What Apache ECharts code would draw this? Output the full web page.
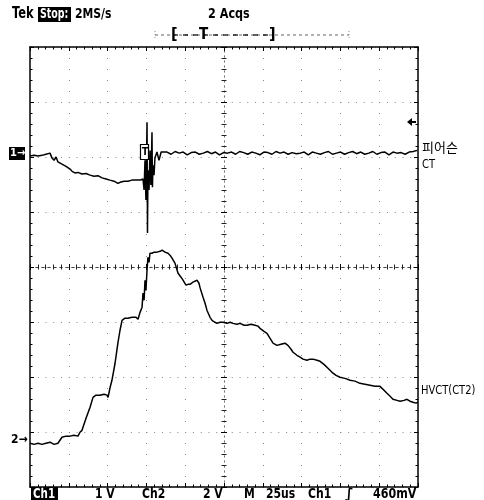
<!DOCTYPE html>
<html><head><meta charset="utf-8">
<script src="https://cdn.jsdelivr.net/npm/echarts@6/dist/echarts.min.js"></script>
<style>html,body{margin:0;padding:0;background:#fff}#c{width:484px;height:500px}</style>
</head><body><div id="c"></div>
<script>
// time in microseconds relative to trigger (25 us/div), values in volts
const ch1Points = [[-125.0,-0.05],[-122.4,-0.04],[-119.8,-0.05],[-117.3,-0.04],[-114.7,-0.02],[-112.1,0.0],[-110.8,-0.09],[-109.5,-0.13],[-108.2,-0.07],[-107.0,-0.16],[-104.4,-0.20],[-101.8,-0.24],[-99.2,-0.29],[-97.9,-0.33],[-96.0,-0.36],[-94.1,-0.35],[-91.5,-0.38],[-88.9,-0.37],[-86.3,-0.40],[-83.8,-0.42],[-81.2,-0.41],[-78.6,-0.45],[-76.0,-0.47],[-73.5,-0.49],[-70.9,-0.51],[-68.3,-0.55],[-67.0,-0.53],[-64.4,-0.51],[-61.9,-0.51],[-59.3,-0.49],[-56.7,-0.49],[-54.1,-0.49],[-52.2,-0.47],
[-51.5,-0.67],[-50.9,-0.13],[-50.3,-0.85],[-49.6,0.56],[-49.3,-1.45],[-49.0,-0.31],[-48.3,-0.67],[-47.7,0.05],[-47.1,-0.58],[-46.4,0.38],[-46.1,-0.62],[-45.8,-0.22],[-45.1,-0.40],[-44.5,-0.09],[-43.2,0.02],[-41.9,-0.13],[-40.5,0.02],[-39.3,0.0],
[-36.7,0.02],[-34.1,-0.02],[-31.5,0.03],[-28.9,0.0],[-26.3,0.02],[-23.7,-0.03],[-21.1,0.01],[-18.5,0.02],[-15.9,-0.02],[-13.3,0.0],[-10.7,0.03],[-8.1,-0.01],[-5.5,0.02],[-2.9,-0.03],[-0.3,0.01],[2.3,0.0],[4.9,0.02],[7.5,-0.02],[10.1,0.03],[12.7,0.01],[15.3,-0.02],[17.9,0.02],[20.5,0.0],[23.1,-0.03],[25.7,0.02],[28.3,0.01],[30.9,-0.02],[33.5,0.03],[36.1,0.0],[38.7,0.02],[41.3,-0.02],[43.9,0.01],[46.5,-0.01],[49.1,0.0],[51.7,0.02],[54.3,-0.03],[56.9,0.02],[59.5,0.0],[62.1,-0.02],[64.7,0.01],[67.3,0.03],[69.9,-0.02],[72.5,0.0],[75.1,0.02],[77.7,-0.02],[80.3,0.01],[82.9,0.03],[85.5,-0.01],[88.1,0.02],[90.7,-0.02],[93.3,0.0],[95.9,0.03],[98.5,-0.02],[101.1,0.01],[103.7,0.02],[106.3,-0.03],[108.9,0.02],[111.5,0.0],[114.1,0.01],[116.7,-0.02],[119.3,0.02],[121.9,0.03],[124.5,0.05]];

const ch2Points = [[-125.0,-0.11],[-122.4,-0.15],[-119.8,-0.11],[-117.3,-0.15],[-114.7,-0.11],[-112.1,-0.07],[-109.5,-0.15],[-107.0,-0.11],[-104.4,0.11],[-101.8,0.15],[-99.2,0.15],[-96.6,0.18],[-94.1,0.15],[-92.8,0.29],[-91.5,0.36],[-88.9,0.80],[-86.3,1.20],[-84.4,1.56],[-82.5,1.64],[-79.9,1.64],[-77.3,1.67],[-75.4,1.64],[-74.7,1.56],[-73.5,1.89],[-72.2,2.18],[-70.2,2.80],[-68.3,3.56],[-67.0,4.00],[-65.7,4.36],[-63.8,4.44],[-61.9,4.44],[-59.3,4.47],[-56.7,4.47],[-55.4,4.40],[-54.1,4.65],[-52.8,4.84],[-52.2,5.35],[-51.5,5.09],[-50.9,5.82],[-50.3,5.45],[-49.6,6.18],[-49.0,6.65],[-48.3,6.47],[-47.7,6.80],[-46.4,6.80],[-45.1,6.84],[-43.2,6.84],[-41.2,6.87],[-39.9,6.91],[-38.0,6.84],[-36.1,6.80],[-34.8,6.73],[-33.5,6.62],[-31.6,6.44],[-29.6,6.07],[-27.7,5.93],[-26.4,5.82],[-24.5,5.64],[-23.2,5.67],[-21.9,5.67],[-20.0,5.75],[-17.4,5.82],[-16.1,5.71],[-15.5,5.56],[-13.5,5.20],[-12.2,4.98],[-11.0,4.73],[-9.0,4.47],[-7.7,4.36],[-5.8,4.29],[-4.5,4.25],[-2.6,4.29],[-0.6,4.29],[1.9,4.25],[3.9,4.29],[5.8,4.25],[8.4,4.22],[10.3,4.25],[12.9,4.18],[14.8,4.18],[17.4,4.22],[20.0,4.18],[21.9,4.15],[23.2,4.07],[25.8,3.96],[27.7,3.89],[29.6,3.71],[31.6,3.53],[34.1,3.45],[36.7,3.49],[39.3,3.53],[41.2,3.45],[43.2,3.31],[44.5,3.20],[47.0,3.09],[49.0,3.02],[50.9,2.95],[53.5,2.91],[55.4,2.95],[57.3,2.95],[59.9,2.91],[61.9,2.87],[64.4,2.76],[67.0,2.62],[69.6,2.47],[72.2,2.36],[74.7,2.29],[78.0,2.25],[81.2,2.18],[84.4,2.15],[87.6,2.07],[90.8,2.04],[94.1,2.00],[97.3,1.96],[100.5,1.96],[103.1,1.82],[105.0,1.71],[107.0,1.60],[108.9,1.49],[111.5,1.45],[113.4,1.42],[116.0,1.45],[117.9,1.49],[119.8,1.42],[121.8,1.38],[123.7,1.35],[125.0,1.38]];

// volts per division and ground-marker offset (divisions from screen centre)
const ch1Scale = 1, ch1Offset = 2.07;
const ch2Scale = 2, ch2Offset = -3.15;
const timeRange = [-125, 125], timeStep = 25;
const divRange = [-4, 4];

const toDiv = (pts, s, o) => pts.map(p => [p[0], p[1] / s + o]);

const G = {left: 30, top: 47, width: 388, height: 440};
const FONT = '"DejaVu Sans Condensed", "Liberation Sans Narrow", sans-serif';
const blk = '#000';

function borderX(pos) {
  return {gridIndex: 0, type: 'value', min: timeRange[0], max: timeRange[1], interval: timeStep, position: pos,
    axisLine: {show: true, onZero: false, lineStyle: {color: blk, width: 1.5}},
    axisTick: {show: true, inside: true, length: 4, lineStyle: {color: blk, width: 1}},
    minorTick: {show: true, splitNumber: 5, length: 2.5, lineStyle: {color: blk, width: 1}},
    axisLabel: {show: false},
    splitLine: {show: pos === 'bottom', lineStyle: {color: '#888', width: 1, type: [1, 10]}}};
}
function borderY(pos) {
  return {gridIndex: 0, type: 'value', min: divRange[0], max: divRange[1], interval: 1, position: pos,
    axisLine: {show: true, onZero: false, lineStyle: {color: blk, width: 1.5}},
    axisTick: {show: true, inside: true, length: 4, lineStyle: {color: blk, width: 1}},
    minorTick: {show: true, splitNumber: 5, length: 2.5, lineStyle: {color: blk, width: 1}},
    axisLabel: {show: false},
    splitLine: {show: pos === 'left', lineStyle: {color: '#888', width: 1, type: [1, 6.76]}}};
}
function centerX(pos) {
  return {gridIndex: 1, type: 'value', min: timeRange[0], max: timeRange[1], interval: timeStep, position: pos,
    axisLine: {show: true, onZero: true, onZeroAxisIndex: 2, lineStyle: {color: '#444', width: 1, type: [2, 4]}},
    axisTick: {show: true, inside: true, length: 3, lineStyle: {color: blk, width: 1}},
    minorTick: {show: true, splitNumber: 5, length: 2.5, lineStyle: {color: '#222', width: 1}},
    axisLabel: {show: false}, splitLine: {show: false}};
}
function centerY(pos) {
  return {gridIndex: 1, type: 'value', min: divRange[0], max: divRange[1], interval: 1, position: pos,
    axisLine: {show: true, onZero: true, onZeroAxisIndex: 2, lineStyle: {color: '#777', width: 1, type: [1, 4]}},
    axisTick: {show: true, inside: true, length: 3, lineStyle: {color: blk, width: 1}},
    minorTick: {show: true, splitNumber: 5, length: 2.5, lineStyle: {color: '#222', width: 1}},
    axisLabel: {show: false}, splitLine: {show: false}};
}

function txt(x, y, s, opt, sx) {
  return {type: 'text', x: x, y: y, silent: true, scaleX: sx || 0.86, scaleY: 1,
    style: Object.assign({text: s, fill: blk, font: 'bold 14px ' + FONT, textVerticalAlign: 'middle'}, opt || {})};
}

const graphics = [
  txt(12, 14, 'Tek', {font: 'bold 15px ' + FONT}, 0.85),
  {type: 'rect', shape: {x: 38, y: 7, width: 33, height: 15}, style: {fill: blk}},
  txt(40, 14.5, 'Stop:', {fill: '#fff', font: 'bold 14px ' + FONT}, 0.75),
  txt(75, 14, '2MS/s', null, 0.86),
  txt(208, 14, '2 Acqs', null, 0.89),
  // record view bar
  {type: 'line', shape: {x1: 155, y1: 35, x2: 349, y2: 35}, style: {stroke: '#666', lineWidth: 1, lineDash: [3, 3]}},
  {type: 'line', shape: {x1: 173, y1: 35, x2: 272, y2: 35}, style: {stroke: '#000', lineWidth: 1.2, lineDash: [5, 5]}},
  {type: 'line', shape: {x1: 155, y1: 31, x2: 155, y2: 40}, style: {stroke: '#888', lineWidth: 1, lineDash: [1, 2]}},
  {type: 'line', shape: {x1: 349, y1: 31, x2: 349, y2: 40}, style: {stroke: '#888', lineWidth: 1, lineDash: [1, 2]}},
  txt(171, 35, '[', {font: 'bold 16px ' + FONT}, 1),
  txt(199, 35, 'T', {font: 'bold 15px ' + FONT}, 1),
  txt(269, 35, ']', {font: 'bold 16px ' + FONT}, 1),
  // channel markers
  {type: 'rect', shape: {x: 9, y: 147, width: 16, height: 13}, style: {fill: blk}},
  txt(10, 153.5, '1→', {fill: '#fff', font: 'bold 11px "DejaVu Sans Condensed", sans-serif'}, 1),
  txt(11, 440, '2→', {font: 'bold 12px "DejaVu Sans Condensed", sans-serif'}, 1),
  // trigger position box on trace
  {type: 'rect', shape: {x: 140.5, y: 144.5, width: 8, height: 15}, style: {fill: '#fff', stroke: blk, lineWidth: 1.2}, z: 10},
  {type: 'text', x: 142, y: 152, z: 11, silent: true, style: {text: 'T', fill: blk, font: 'bold 10px "DejaVu Sans Condensed", sans-serif', textVerticalAlign: 'middle'}},
  // trigger level arrow at right
  {type: 'polygon', shape: {points: [[407, 122], [412, 118], [412, 126]]}, style: {fill: blk}},
  {type: 'line', shape: {x1: 411, y1: 122, x2: 416, y2: 122}, style: {stroke: blk, lineWidth: 2}},
  // right labels
  txt(422, 147, '피어슨', {font: '13px "Noto Sans CJK KR", sans-serif'}, 1),
  txt(422, 165, 'CT', {font: '13px ' + FONT}, 0.85),
  txt(421, 391, 'HVCT(CT2)', {font: '13px ' + FONT}, 0.85),
  // bottom status line
  {type: 'rect', shape: {x: 31, y: 487, width: 27, height: 13}, style: {fill: blk}},
  txt(33, 494, 'Ch1', {fill: '#fff'}, 0.82),
  txt(95, 494, '1 V'),
  txt(142, 494, 'Ch2'),
  txt(203, 494, '2 V'),
  txt(244, 494, 'M'),
  txt(266, 494, '25us'),
  txt(308, 494, 'Ch1'),
  txt(345, 494, '∫', {font: 'bold italic 14px "DejaVu Sans", sans-serif'}, 1),
  txt(373, 494, '460mV', null, 0.88)
];

const chart = echarts.init(document.getElementById('c'), null, {renderer: 'canvas'});
chart.setOption({
  animation: false,
  backgroundColor: '#fff',
  grid: [Object.assign({show: false}, G), Object.assign({show: false}, G)],
  xAxis: [borderX('bottom'), borderX('top'), centerX('bottom'), centerX('top')],
  yAxis: [borderY('left'), borderY('right'), centerY('left'), centerY('right')],
  series: [
    {type: 'line', name: 'CH1', xAxisIndex: 0, yAxisIndex: 0, data: toDiv(ch1Points, ch1Scale, ch1Offset),
      showSymbol: false, lineStyle: {color: blk, width: 1.5}, z: 5},
    {type: 'line', name: 'CH2', xAxisIndex: 0, yAxisIndex: 0, data: toDiv(ch2Points, ch2Scale, ch2Offset),
      showSymbol: false, lineStyle: {color: blk, width: 1.5}, z: 5}
  ],
  graphic: graphics
});
</script></body></html>
